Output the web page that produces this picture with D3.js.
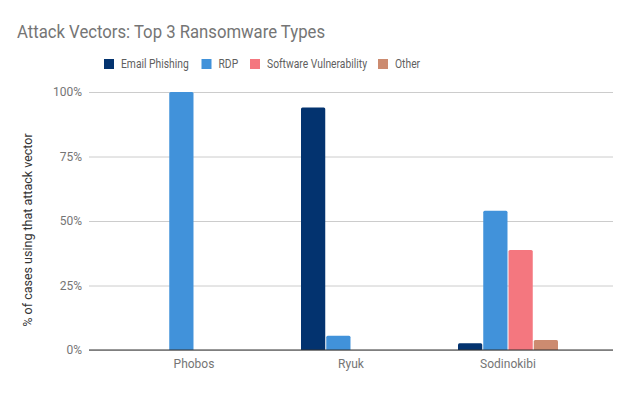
<!DOCTYPE html>
<html lang="en">
<head>
    <meta charset="UTF-8">
    <title>Attack Vectors</title>
    <script src="https://d3js.org/d3.v7.min.js"></script>
    <style>
        body { margin: 0; background: #fff; }
        text { font-family: Roboto, "Noto Sans", sans-serif; }
    </style>
</head>
<body>
<script>
    var width = 633, height = 393;

    var categories = ["Phobos", "Ryuk", "Sodinokibi"];
    var series = ["Email Phishing", "RDP", "Software Vulnerability", "Other"];
    var emailPhishing = [0, 94, 2.6];
    var rdp = [100, 5.5, 54];
    var softwareVuln = [0, 0, 38.8];
    var other = [0, 0, 3.9];
    var yTicks = [0, 25, 50, 75, 100];
    var colors = ["#03336f", "#4192da", "#f4777f", "#cc8b70"];

    var values = [emailPhishing, rdp, softwareVuln, other];

    var svg = d3.select("body").append("svg")
        .attr("width", width)
        .attr("height", height);

    var plotLeft = 89, plotRight = 613, plotTop = 92, plotBottom = 350;

    var y = d3.scaleLinear().domain([0, 100]).range([plotBottom, plotTop]);
    var x0 = d3.scaleBand().domain(categories).range([115.5, 586.5]);
    var bw = x0.bandwidth();
    var x1 = d3.scaleBand().domain(series)
        .range([bw / 2 - 50, bw / 2 + 50])
        .paddingInner(0.04);

    // title (reference text is a bit narrow, squeeze horizontally)
    svg.append("text")
        .attr("transform", "translate(17,38) scale(0.88,1)")
        .attr("font-size", 19)
        .attr("fill", "#757575")
        .text("Attack Vectors: Top 3 Ransomware Types");

    // legend
    var legendX = [104, 201.5, 250, 378];
    var legend = svg.append("g");
    series.forEach(function(s, i) {
        legend.append("rect")
            .attr("x", legendX[i]).attr("y", 59)
            .attr("width", 10).attr("height", 10)
            .attr("fill", colors[i]);
        legend.append("text")
            .attr("transform", "translate(" + (legendX[i] + 17) + ",68) scale(0.86,1)")
            .attr("font-size", 12)
            .attr("fill", "#5f5f5f")
            .text(s);
    });

    // gridlines + y labels
    var yAxis = d3.axisLeft(y).tickValues(yTicks)
        .tickSize(-(plotRight - plotLeft))
        .tickPadding(7)
        .tickFormat(function(d) { return d + "%"; });
    var gy = svg.append("g")
        .attr("transform", "translate(" + plotLeft + ",0)")
        .call(yAxis);
    gy.select(".domain").remove();
    gy.selectAll("line").attr("stroke", "#cccccc");
    gy.selectAll("text")
        .attr("font-size", 12)
        .attr("fill", "#757575")
        .style("font-family", "Roboto, sans-serif");

    // bars
    categories.forEach(function(c, ci) {
        var g = svg.append("g").attr("transform", "translate(" + x0(c) + ",0)");
        series.forEach(function(s, si) {
            var v = values[si][ci];
            if (!v) return;
            var bx = x1(s), bwid = x1.bandwidth(), top = y(v), r = 1.5;
            g.append("path")
                .attr("fill", colors[si])
                .attr("d", "M" + bx + "," + plotBottom +
                    "V" + (top + r) +
                    "Q" + bx + "," + top + " " + (bx + r) + "," + top +
                    "H" + (bx + bwid - r) +
                    "Q" + (bx + bwid) + "," + top + " " + (bx + bwid) + "," + (top + r) +
                    "V" + plotBottom + "Z");
        });
    });

    // baseline
    svg.append("line")
        .attr("x1", plotLeft).attr("x2", plotRight)
        .attr("y1", plotBottom).attr("y2", plotBottom)
        .attr("stroke", "#333").attr("stroke-width", 1.2);

    // x labels
    var gx = svg.append("g")
        .attr("transform", "translate(0," + plotBottom + ")")
        .call(d3.axisBottom(x0).tickSize(0).tickPadding(9));
    gx.select(".domain").remove();
    gx.selectAll("text")
        .attr("font-size", 12)
        .attr("fill", "#757575")
        .style("font-family", "Roboto, sans-serif");

    // y axis title
    svg.append("text")
        .attr("transform", "translate(32,230) rotate(-90)")
        .attr("text-anchor", "middle")
        .attr("font-size", 12.5)
        .attr("fill", "#333")
        .text("% of cases using that attack vector");
</script>
</body>
</html>
